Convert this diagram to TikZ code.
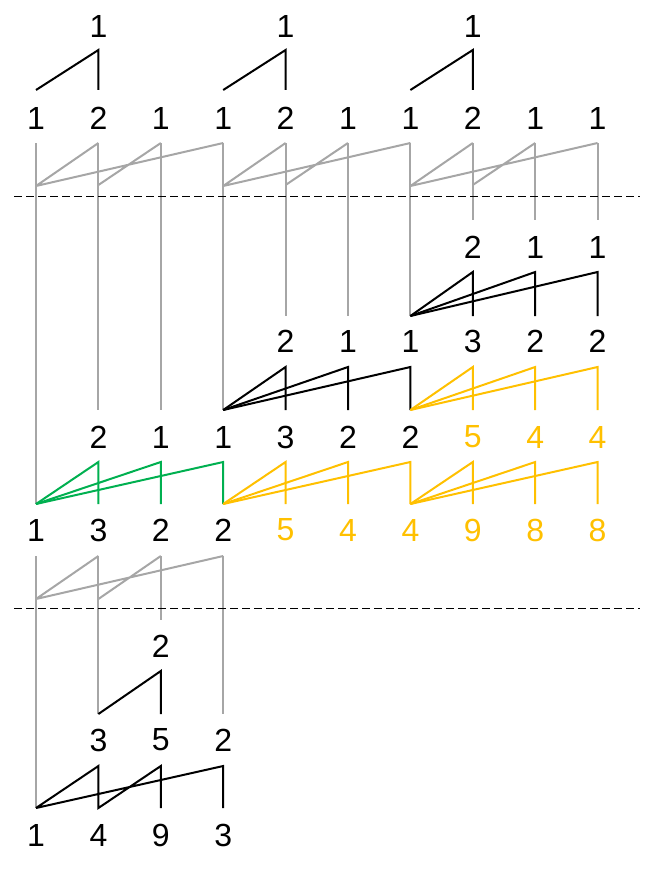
\documentclass[tikz,border=0pt]{standalone}
\usepackage{fontspec}
\setmainfont{Liberation Sans}
\usepackage{tikz}
\definecolor{scangrey}{HTML}{A6A6A6}
\definecolor{scangold}{HTML}{FFC000}
\definecolor{scangreen}{HTML}{00B050}
% fan: colour, base column, top level, bottom level
\newcommand\scanfan[4]{%
  \foreach \k in {1,2,3}{%
    \pgfmathtruncatemacro\m{#2+\k}%
    \draw[#1] (x#2 |- y#4) -- (x\m |- y#3) -- (x\m |- y#4);}}

\begin{document}
\begin{tikzpicture}[x=0.75pt,y=-0.75pt,line width=1.5pt,
    num/.style={font=\fontsize{24}{28}\selectfont,inner sep=0pt},
    cut/.style={line width=0.75pt,dash pattern=on 6pt off 3pt}]
    \useasboundingbox (0,0) rectangle (657,874);
    \foreach \i in {1,...,10}\coordinate (x\i) at ({36+62.4*(\i-1)},0);
    \foreach \y in {26,50,90,118,143,185,186,220,247,272,316,341,367,410,437,462,504,530,556,599,620,646,671,714,740,766,808,835}\coordinate (y\y) at (0,\y);
    % labels
    \foreach \i in {2,5,8}\node[num] (a\i) at (x\i |- y26) {1};
    \foreach \v [count=\i] in {1,2,1,1,2,1,1,2,1,1}\node[num] (b\i) at (x\i |- y118) {\v};
    \foreach \v [count=\i from 8] in {2,1,1}\node[num] (c\i) at (x\i |- y247) {\v};
    \foreach \v [count=\i from 5] in {2,1,1,3,2,2}\node[num] (d\i) at (x\i |- y341) {\v};
    \foreach \v [count=\i from 2] in {2,1,1,3,2,2}\node[num] (e\i) at (x\i |- y437) {\v};
    \foreach \v [count=\i from 8] in {5,4,4}\node[num,scangold] (e\i) at (x\i |- y437) {\v};
    \foreach \v [count=\i] in {1,3,2,2}\node[num] (f\i) at (x\i |- y530) {\v};
    \foreach \v [count=\i from 5] in {5,4,4,9,8,8}\node[num,scangold] (f\i) at (x\i |- y530) {\v};
    \node[num] (g3) at (x3 |- y646) {2};
    \foreach \v [count=\i from 2] in {3,5,2}\node[num] (h\i) at (x\i |- y740) {\v};
    \foreach \v [count=\i] in {1,4,9,3}\node[num] (k\i) at (x\i |- y835) {\v};
    % top pairs
    \foreach \j in {1,4,7}{\pgfmathtruncatemacro\p{\j+1}
      \draw (x\j |- y90) -- (x\p |- y50) -- (x\p |- y90);}
    % grey scan, top
    \foreach \i/\e in {1/504,2/410,3/410,4/410,5/316,6/316,7/316,8/220,9/220,10/220}
      \draw[scangrey] (x\i |- y143) -- (x\i |- y\e);
    \foreach \j in {1,4,7}{\pgfmathtruncatemacro\p{\j+1}\pgfmathtruncatemacro\q{\j+2}\pgfmathtruncatemacro\r{\j+3}
      \draw[scangrey] (x\j |- y186) -- (x\p |- y143) (x\p |- y185) -- (x\q |- y143) (x\j |- y186) -- (x\r |- y143);}
    \draw[cut] (14,196) -- (640,196);
    % fans
    \scanfan{black}{7}{272}{316}
    \scanfan{black}{4}{367}{410}
    \scanfan{scangold}{7}{367}{410}
    \scanfan{scangreen}{1}{462}{504}
    \scanfan{scangold}{4}{462}{504}
    \scanfan{scangold}{7}{462}{504}
    % grey scan, bottom
    \foreach \i/\e in {1/808,2/714,3/620,4/714}
      \draw[scangrey] (x\i |- y556) -- (x\i |- y\e);
    \draw[scangrey] (x1 |- y599) -- (x2 |- y556) (x2 |- y599) -- (x3 |- y556) (x1 |- y599) -- (x4 |- y556);
    \draw[cut] (14,608) -- (640,608);
    \draw (x2 |- y714) -- (x3 |- y671) -- (x3 |- y714);
    \draw (x1 |- y808) -- (x2 |- y766) -- (x2 |- y808) -- (x3 |- y766) -- (x3 |- y808)
      (x1 |- y808) -- (x4 |- y766) -- (x4 |- y808);
\end{tikzpicture}
\end{document}
